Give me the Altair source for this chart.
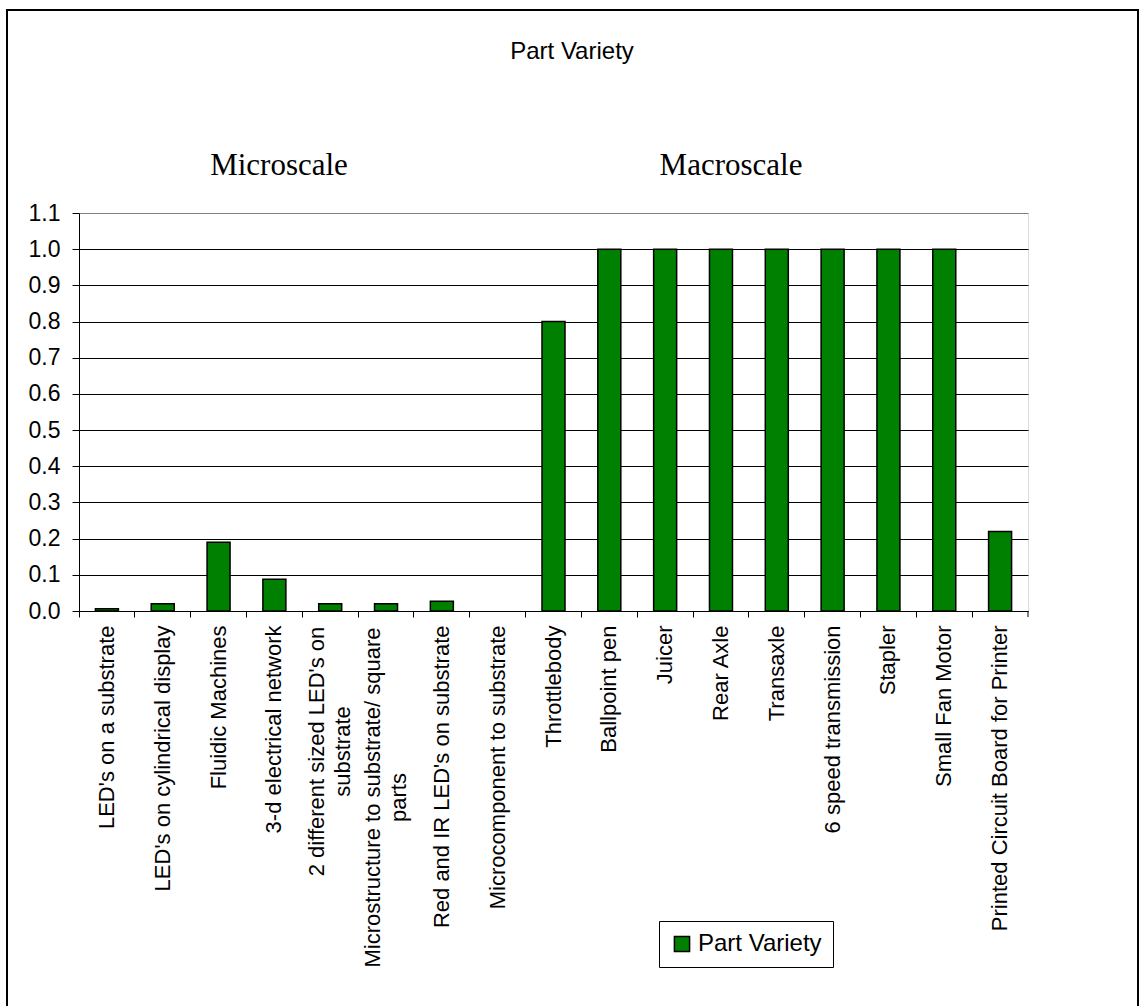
import altair as alt
import pandas as pd

categories = [
    "LED's on a substrate",
    "LED's on cylindrical display",
    "Fluidic Machines",
    "3-d electrical network",
    "2 different sized LED's on|substrate",
    "Microstructure to substrate/ square|parts",
    "Red and IR LED's on substrate",
    "Microcomponent to substrate",
    "Throttlebody",
    "Ballpoint pen",
    "Juicer",
    "Rear Axle",
    "Transaxle",
    "6 speed transmission",
    "Stapler",
    "Small Fan Motor",
    "Printed Circuit Board for Printer",
]
values = [0.006, 0.02, 0.19, 0.088, 0.02, 0.02, 0.027, 0.0, 0.8,
          1.0, 1.0, 1.0, 1.0, 1.0, 1.0, 1.0, 0.22]
series_name = "Part Variety"
y_ticks = [round(i * 0.1, 1) for i in range(12)]

df = pd.DataFrame({"cat": categories, "val": values, "series": series_name})

W, H = 949, 398
LEFT, TOP = 79, 213
XFS = 22  # x label font size

multi = "indexof(datum.value, '|') >= 0"

bars = alt.Chart(df).mark_bar(width=23, strokeWidth=1.5).encode(
    x=alt.X(
        "cat:N", sort=None, title=None,
        scale=alt.Scale(paddingInner=0, paddingOuter=0),
        axis=alt.Axis(
            labelAngle=270, bandPosition=0, tickSize=6, tickColor="black",
            domainColor="black", labelFontSize=XFS,
            labelFont="Liberation Sans", labelColor="black", labelLimit=500,
            labelExpr="split(datum.label, '|')", labelLineHeight=26,
            labelAlign={"condition": {"test": multi, "value": "center"}, "value": "right"},
            labelOffset={"condition": {"test": multi, "value": -13}, "value": 0},
            labelPadding={"condition": [
                {"test": "indexof(datum.value, 'Microstructure') >= 0", "value": 180},
                {"test": multi, "value": 134},
            ], "value": 8},
            grid=False,
        ),
    ),
    y=alt.Y(
        "val:Q", title=None,
        scale=alt.Scale(domain=[0, 1.1], nice=False),
        axis=alt.Axis(
            values=y_ticks, format=".1f", tickSize=7, tickColor="black",
            domainColor="black", labelPadding=12, labelFontSize=23,
            labelFont="Liberation Sans", labelColor="black",
            grid=True,
            gridColor={"condition": {"test": "datum.value > 1.05", "value": "#808080"}, "value": "black"},
            gridWidth=1,
        ),
    ),
    color=alt.Color(
        "series:N", title=None,
        scale=alt.Scale(range=["#008000"]),
        legend=alt.Legend(
            orient="none", legendX=580, legendY=708, strokeColor="black",
            fillColor="white", padding=11, symbolType="square", symbolSize=230,
            symbolStrokeColor="black", symbolStrokeWidth=1.5, symbolOpacity=1,
            labelFontSize=24, labelFont="Liberation Sans", labelColor="black",
        ),
    ),
    stroke=alt.condition(alt.datum.val > 0, alt.value("black"), alt.value("transparent")),
)

one = pd.DataFrame({"k": [0]})

end_tick = alt.Chart(one).mark_rule(color="black").encode(
    x=alt.value(W), y=alt.value(H), y2=alt.value(H + 6)
)

titles_df = pd.DataFrame({"t": ["Part Variety"]})
title_txt = alt.Chart(titles_df).mark_text(
    font="Liberation Sans", fontSize=24, color="black", baseline="alphabetic", align="center"
).encode(text="t:N", x=alt.value(572 - LEFT), y=alt.value(59 - TOP))

scale_df = pd.DataFrame({"t": ["Microscale"]})
micro_txt = alt.Chart(scale_df).mark_text(
    font="Liberation Serif", fontSize=31, color="black", baseline="alphabetic", align="center"
).encode(text="t:N", x=alt.value(279 - LEFT), y=alt.value(175 - TOP))

scale_df2 = pd.DataFrame({"t": ["Macroscale"]})
macro_txt = alt.Chart(scale_df2).mark_text(
    font="Liberation Serif", fontSize=31, color="black", baseline="alphabetic", align="center"
).encode(text="t:N", x=alt.value(731 - LEFT), y=alt.value(175 - TOP))

border = alt.Chart(one).mark_rect(fill="none", stroke="black", strokeWidth=2).encode(
    x=alt.value(7 - LEFT), x2=alt.value(1138 - LEFT),
    y=alt.value(10 - TOP), y2=alt.value(1012 - TOP),
)

chart = alt.layer(bars, end_tick, title_txt, micro_txt, macro_txt, border).properties(
    width=W, height=H,
    autosize=alt.AutoSizeParams(type="none"),
    padding={"left": LEFT, "top": TOP, "right": 1139 - LEFT - W, "bottom": 1006 - TOP - H},
).configure_view(
    stroke="#808080", strokeWidth=2
).configure(background="white")

chart.save("out.html", embed_options={"renderer": "svg", "actions": False})
